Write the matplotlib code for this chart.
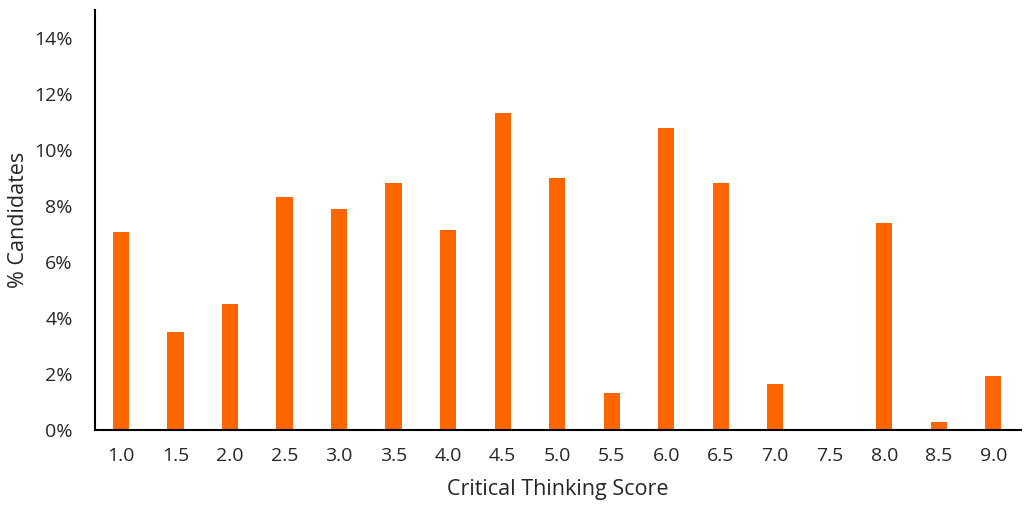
import matplotlib
matplotlib.use('Agg')
import matplotlib.pyplot as plt
from matplotlib.ticker import FuncFormatter

plt.rcParams['font.family'] = ['Open Sans', 'DejaVu Sans']

scores = ['1.0', '1.5', '2.0', '2.5', '3.0', '3.5', '4.0', '4.5', '5.0',
          '5.5', '6.0', '6.5', '7.0', '7.5', '8.0', '8.5', '9.0']
pct_candidates = [7.07, 3.50, 4.50, 8.32, 7.89, 8.82, 7.14, 11.32, 9.00,
                  1.32, 10.79, 8.82, 1.64, 0.0, 7.40, 0.30, 1.93]
y_ticks = [0, 2, 4, 6, 8, 10, 12, 14]

fig = plt.figure(figsize=(10.24, 5.08), dpi=100)
ax = fig.add_axes([95 / 1024, 78 / 508, 926 / 1024, 420 / 508])

x = range(len(scores))
ax.bar(x, pct_candidates, width=0.3, color='#FF6600', zorder=2)

ax.set_xlim(-0.48, len(scores) - 0.49)
ax.set_ylim(0, 15)
ax.set_xticks(list(x))
ax.set_xticklabels(scores)
ax.set_yticks(y_ticks)
ax.yaxis.set_major_formatter(FuncFormatter(lambda v, _: f'{v:.0f}%'))

for side in ('top', 'right'):
    ax.spines[side].set_visible(False)
for side in ('left', 'bottom'):
    ax.spines[side].set_linewidth(1.5)
    ax.spines[side].set_color('black')

ax.tick_params(axis='both', length=0, labelsize=14, colors='#262626')
ax.tick_params(axis='y', pad=16)
ax.tick_params(axis='x', pad=12)

ax.set_xlabel('Critical Thinking Score', fontsize=15.5, color='#262626', labelpad=10)
ax.set_ylabel('% Candidates', fontsize=15.5, color='#262626', va='center')
ax.yaxis.set_label_coords(-0.083, 0.5)

fig.savefig('out.png', dpi=100)
